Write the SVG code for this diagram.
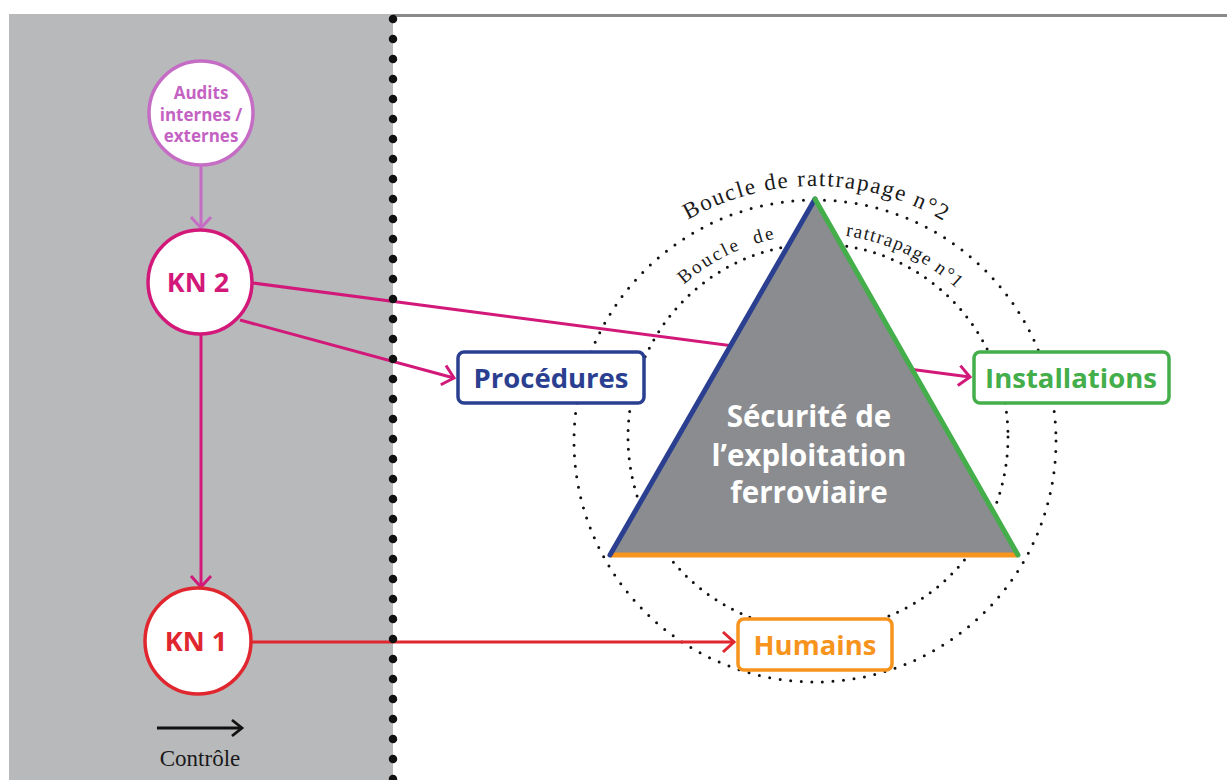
<svg xmlns="http://www.w3.org/2000/svg" width="1227" height="780" viewBox="0 0 1227 780">
<style>
.sans{font-family:"Open Sans","Liberation Sans",sans-serif;font-weight:700}
.serif{font-family:"Liberation Serif","DejaVu Serif",serif;fill:#1a1a1a}
.conn{fill:none;stroke-width:3}
.nodec{fill:#fff;stroke-width:3.5}
.box{fill:#fff;stroke-width:3.5}
.dots{fill:none;stroke:#111;stroke-linecap:round}
</style>
<defs>
<marker id="aOrchid" markerUnits="userSpaceOnUse" markerWidth="26" markerHeight="26" refX="13" refY="13" orient="auto" viewBox="0 0 26 26"><path d="M2,3 L13,13 L2,23" fill="none" stroke="#c56dc4" stroke-width="3"/></marker>
<marker id="aPink" markerUnits="userSpaceOnUse" markerWidth="26" markerHeight="26" refX="13" refY="13" orient="auto" viewBox="0 0 26 26"><path d="M2,3 L13,13 L2,23" fill="none" stroke="#d2197a" stroke-width="3"/></marker>
<marker id="aRed" markerUnits="userSpaceOnUse" markerWidth="26" markerHeight="26" refX="13" refY="13" orient="auto" viewBox="0 0 26 26"><path d="M2,3 L13,13 L2,23" fill="none" stroke="#e0262f" stroke-width="3"/></marker>
<marker id="aBlack" markerUnits="userSpaceOnUse" markerWidth="26" markerHeight="26" refX="13" refY="13" orient="auto" viewBox="0 0 26 26"><path d="M3,5 L13,13 L3,21" fill="none" stroke="#111" stroke-width="2.8"/></marker>
<path id="pOuter" d="M594.2,313.5 A255,255 0 0 1 1035.8,313.5"/>
<path id="pInner" d="M642.2,335.5 A203,203 0 0 1 993.8,335.5"/>
</defs>

<rect x="0" y="0" width="1227" height="780" fill="#fff"/>
<rect x="9" y="14" width="384" height="766" fill="#b8b9bb"/>
<line x1="393" y1="15.5" x2="1227" y2="15.5" stroke="#8a8a8a" stroke-width="3"/>

<g id="loops">
<circle cx="815" cy="441" r="241" class="dots" stroke-width="3" stroke-dasharray="0 10.6"/>
<ellipse cx="818" cy="437" rx="190" ry="193" class="dots" stroke-width="3" stroke-dasharray="0 9.5"/>
<text class="serif" font-size="23" letter-spacing="1.7"><textPath href="#pOuter" startOffset="134">Boucle de rattrapage n°2</textPath></text>
<text class="serif" font-size="19" letter-spacing="2.5" word-spacing="6"><textPath href="#pInner" startOffset="66">Boucle de</textPath></text>
<text class="serif" font-size="19" letter-spacing="1.3"><textPath href="#pInner" startOffset="240">rattrapage n°1</textPath></text>
</g>

<g id="connectors">
<line class="conn" x1="201" y1="166" x2="201" y2="228" stroke="#c56dc4" marker-end="url(#aOrchid)"/>
<line class="conn" x1="201" y1="335" x2="201" y2="587" stroke="#d2197a" marker-end="url(#aPink)"/>
<line class="conn" x1="240" y1="320" x2="454" y2="378" stroke="#d2197a" marker-end="url(#aPink)"/>
<line class="conn" x1="253" y1="283" x2="970" y2="377" stroke="#d2197a" marker-end="url(#aPink)"/>
<line class="conn" x1="252" y1="642" x2="734" y2="642" stroke="#e0262f" marker-end="url(#aRed)"/>
</g>

<line x1="393" y1="19" x2="393" y2="780" class="dots" stroke-width="8.5" stroke-dasharray="0 20"/>

<g id="triangle">
<polygon points="815,199 610,555 1018,555" fill="#8a8c8f"/>
<line x1="610" y1="555" x2="1018" y2="555" stroke="#f7941d" stroke-width="5"/>
<line x1="610" y1="555" x2="815" y2="199" stroke="#2b3f91" stroke-width="5" stroke-linecap="round"/>
<line x1="815" y1="199" x2="1018" y2="555" stroke="#43ae4a" stroke-width="5" stroke-linecap="round"/>
<text class="sans" font-size="29.5" fill="#fff" text-anchor="middle"><tspan x="809" y="427">Sécurité de</tspan><tspan x="809" y="466">l’exploitation</tspan><tspan x="809" y="503">ferroviaire</tspan></text>
</g>

<g id="audits">
<circle cx="201" cy="113" r="52" class="nodec" stroke="#c56dc4"/>
<text class="sans" font-size="17" fill="#c462c3" text-anchor="middle"><tspan x="201" y="99">Audits</tspan><tspan x="201" y="121">internes /</tspan><tspan x="201" y="142">externes</tspan></text>
</g>
<g id="kn2">
<circle cx="200" cy="282" r="52" class="nodec" stroke="#d2197a"/>
<text class="sans" font-size="27" fill="#d2197a" text-anchor="middle" x="198" y="292">KN 2</text>
</g>
<g id="kn1">
<circle cx="198" cy="641" r="53" class="nodec" stroke="#e0262f"/>
<text class="sans" font-size="27" fill="#e0262f" text-anchor="middle" x="196" y="651">KN 1</text>
</g>

<g id="procedures">
<rect x="458" y="352" width="186" height="51" rx="6" class="box" stroke="#2b3f91"/>
<text class="sans" font-size="27.5" fill="#2b3f91" text-anchor="middle" x="551" y="388">Procédures</text>
</g>
<g id="installations">
<rect x="974" y="352" width="195" height="51" rx="6" class="box" stroke="#43ae4a"/>
<text class="sans" font-size="27.5" fill="#43ae4a" text-anchor="middle" x="1071" y="388">Installations</text>
</g>
<g id="humains">
<rect x="738" y="619" width="154" height="51" rx="6" class="box" stroke="#f7941d"/>
<text class="sans" font-size="27.5" fill="#f7941d" text-anchor="middle" x="815" y="655">Humains</text>
</g>

<g id="legend">
<line x1="157" y1="728" x2="242" y2="728" stroke="#111" stroke-width="2.8" marker-end="url(#aBlack)"/>
<text class="serif" font-size="23" text-anchor="middle" x="200" y="766">Contrôle</text>
</g>
</svg>
